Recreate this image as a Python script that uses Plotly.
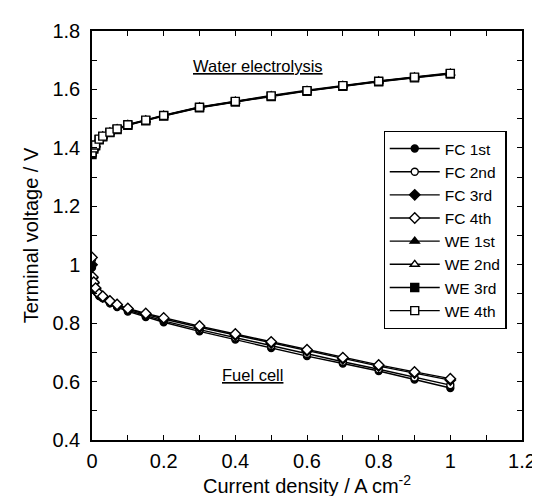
import plotly.graph_objects as go

# Current density (A cm^-2)
fc_x = [0, 0.002, 0.005, 0.01, 0.02, 0.03, 0.05, 0.07, 0.1, 0.15, 0.2, 0.3, 0.4, 0.5, 0.6, 0.7, 0.8, 0.9, 1.0]
we_x = [0, 0.005, 0.01, 0.02, 0.03, 0.05, 0.07, 0.1, 0.15, 0.2, 0.3, 0.4, 0.5, 0.6, 0.7, 0.8, 0.9, 1.0]

# Fuel cell terminal voltages (V)
fc_1st = [0.990, 0.948, 0.932, 0.912, 0.893, 0.885, 0.868, 0.855, 0.840, 0.821, 0.803, 0.772, 0.744, 0.715, 0.687, 0.662, 0.636, 0.607, 0.578]
fc_2nd = [1.018, 0.952, 0.935, 0.915, 0.896, 0.888, 0.871, 0.858, 0.844, 0.825, 0.808, 0.778, 0.750, 0.722, 0.694, 0.668, 0.642, 0.614, 0.588]
fc_3rd = [1.000, 0.955, 0.937, 0.917, 0.898, 0.890, 0.874, 0.862, 0.848, 0.830, 0.814, 0.786, 0.759, 0.732, 0.705, 0.678, 0.653, 0.629, 0.605]
fc_4th = [1.025, 0.958, 0.940, 0.920, 0.900, 0.892, 0.876, 0.864, 0.850, 0.833, 0.818, 0.790, 0.763, 0.736, 0.709, 0.682, 0.657, 0.633, 0.610]

# Water electrolysis terminal voltages (V)
we_1st = [1.380, 1.398, 1.409, 1.429, 1.439, 1.453, 1.464, 1.478, 1.494, 1.510, 1.538, 1.558, 1.577, 1.595, 1.612, 1.627, 1.641, 1.654]
we_2nd = [1.386, 1.401, 1.411, 1.431, 1.441, 1.455, 1.466, 1.480, 1.496, 1.512, 1.540, 1.560, 1.579, 1.597, 1.614, 1.629, 1.643, 1.656]
we_3rd = [1.377, 1.396, 1.407, 1.428, 1.438, 1.452, 1.463, 1.477, 1.493, 1.509, 1.537, 1.557, 1.576, 1.594, 1.611, 1.626, 1.640, 1.653]
we_4th = [1.383, 1.400, 1.410, 1.430, 1.440, 1.454, 1.465, 1.479, 1.495, 1.511, 1.539, 1.559, 1.578, 1.596, 1.613, 1.628, 1.642, 1.655]

series = [
    ("FC 1st", fc_x, fc_1st, "circle", "black", 7),
    ("FC 2nd", fc_x, fc_2nd, "circle", "white", 7),
    ("FC 3rd", fc_x, fc_3rd, "diamond", "black", 8),
    ("FC 4th", fc_x, fc_4th, "diamond", "white", 8),
    ("WE 1st", we_x, we_1st, "triangle-up", "black", 8),
    ("WE 2nd", we_x, we_2nd, "triangle-up", "white", 8),
    ("WE 3rd", we_x, we_3rd, "square", "black", 8),
    ("WE 4th", we_x, we_4th, "square", "white", 8),
]

FONT = "Liberation Sans, Arial, Helvetica, sans-serif"

fig = go.Figure()
for name, xs, ys, sym, fill, size in series:
    fig.add_trace(go.Scatter(
        x=xs, y=ys, name=name, mode="lines+markers",
        line=dict(color="black", width=1.4),
        marker=dict(symbol=sym, size=size, color=fill,
                    line=dict(color="black", width=1.4)),
    ))

axis_common = dict(
    showgrid=False, zeroline=False, automargin=False,
    showline=True, linecolor="black", linewidth=1.5, mirror="allticks",
    ticks="inside", ticklen=5, tickwidth=1.2, tickcolor="black",
    dtick=0.2,
    minor=dict(dtick=0.1, ticks="inside", ticklen=5, tickwidth=1.2, tickcolor="black", showgrid=False),
    tickfont=dict(family=FONT, size=20, color="black"),
)

fig.update_xaxes(range=[0, 1.2], tick0=0, ticklabelstandoff=2,
                 title=dict(text="Current density / A cm<sup>-2</sup>",
                            font=dict(family=FONT, size=20, color="black"), standoff=3),
                 **axis_common)
fig.update_yaxes(range=[0.4, 1.8], tick0=0.4, ticklabelstandoff=6,
                 title=dict(text="Terminal voltage / V",
                            font=dict(family=FONT, size=20, color="black"), standoff=8),
                 **axis_common)

fig.add_annotation(x=0.464, y=1.68, xref="x", yref="y", showarrow=False,
                   text="<u>Water electrolysis</u>",
                   font=dict(family=FONT, size=16.5, color="black"))
fig.add_annotation(x=0.447, y=0.623, xref="x", yref="y", showarrow=False,
                   text="<u>Fuel cell</u>",
                   font=dict(family=FONT, size=16.5, color="black"))

fig.update_layout(
    width=540, height=496,
    margin=dict(l=84, r=26, t=23, b=64, autoexpand=False),
    paper_bgcolor="white", plot_bgcolor="white",
    font=dict(family=FONT, color="black"),
    showlegend=True,
    legend=dict(x=0.678, y=0.756, xanchor="left", yanchor="top",
                bgcolor="white", bordercolor="black", borderwidth=1.2,
                font=dict(family=FONT, size=15.5, color="black"),
                itemwidth=50, tracegroupgap=0),
)

fig.write_html("out.html")
